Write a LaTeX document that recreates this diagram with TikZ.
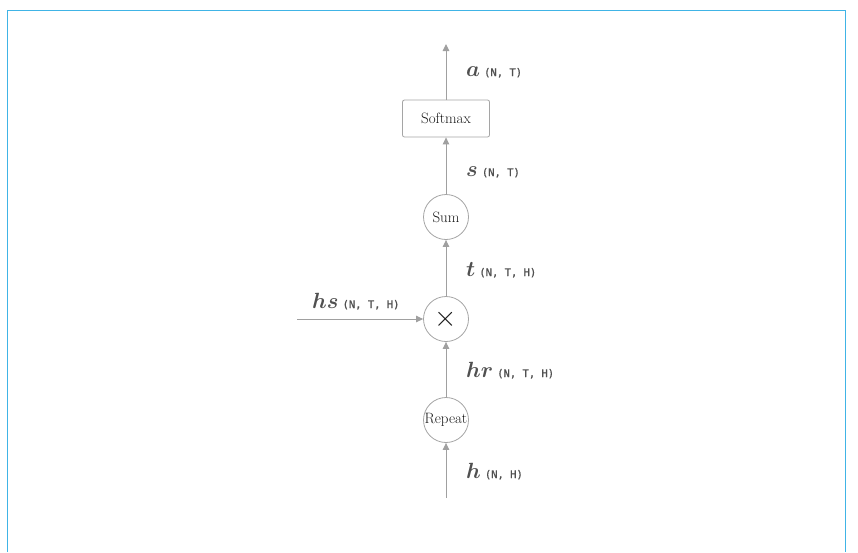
\documentclass[tikz,border=0pt]{standalone}
\usepackage{graphicx}
\usepackage{amsmath,bm}
\usepackage{fontspec}
\newfontfamily\shapefont[FakeBold=1.2]{DejaVu Sans Mono}
\usetikzlibrary{arrows.meta}
\definecolor{framec}{RGB}{64,180,230}
\definecolor{linec}{RGB}{160,160,160}
\definecolor{nodec}{RGB}{165,165,165}
\definecolor{labc}{RGB}{80,80,80}
\definecolor{shapec}{RGB}{80,80,80}
\definecolor{optext}{RGB}{25,25,25}
\newcommand{\shp}[1]{\hspace{4pt}{\shapefont\fontsize{10.5}{12}\selectfont\color{shapec}#1}}
\newcommand{\mv}[1]{\scalebox{2.2}{$\bm{#1}$}}
\begin{document}
\begin{tikzpicture}[x=1pt,y=-1pt,
  flow/.style={draw=linec,line width=1pt,-{Triangle[length=7pt,width=6.5pt]}},
  opcirc/.style={circle,draw=nodec,line width=0.8pt,minimum size=45pt,inner sep=0pt,font=\fontsize{15}{18}\selectfont,text=optext},
  opbox/.style={rectangle,rounded corners=2pt,draw=nodec,line width=0.8pt,minimum width=87pt,minimum height=37pt,inner sep=0pt,font=\fontsize{15}{18}\selectfont,text=optext},
  lab/.style={anchor=base west,inner sep=0pt,text=labc}
]
\useasboundingbox (0,0) rectangle (858,552);
\draw[framec,line width=1.5pt] (7.5,552) -- (7.5,10.5) -- (845.5,10.5) -- (845.5,552);

\node[opbox] (soft) at (446,118.5) {Softmax};
\node[opcirc] (sum) at (446,217) {Sum};
\node[opcirc] (mul) at (446,319) {\scalebox{2}{$\times$}};
\node[opcirc] (rep) at (446,420) {\makebox[0pt][c]{Repeat}};
\coordinate (top) at (446,44);
\coordinate (bot) at (446,498);
\coordinate (hsin) at (297,319);

\draw[flow] (bot) -- (rep);
\draw[flow] (rep) -- (mul);
\draw[flow] (mul) -- (sum);
\draw[flow] (sum) -- (soft);
\draw[flow] (soft) -- (top);
\draw[flow] (hsin) -- (mul);

\node[lab] (la) at (466,76) {\mv{a}\shp{(N, T)}};
\node[lab] (ls) at (466,176) {\mv{s}\shp{(N, T)}};
\node[lab] (lt) at (466,276) {\mv{t}\shp{(N, T, H)}};
\node[lab] (lhs) at (312,308) {\mv{hs}\shp{(N, T, H)}};
\node[lab] (lhr) at (466,377) {\mv{hr}\shp{(N, T, H)}};
\node[lab] (lh) at (466,478) {\mv{h}\shp{(N, H)}};
\end{tikzpicture}
\end{document}
